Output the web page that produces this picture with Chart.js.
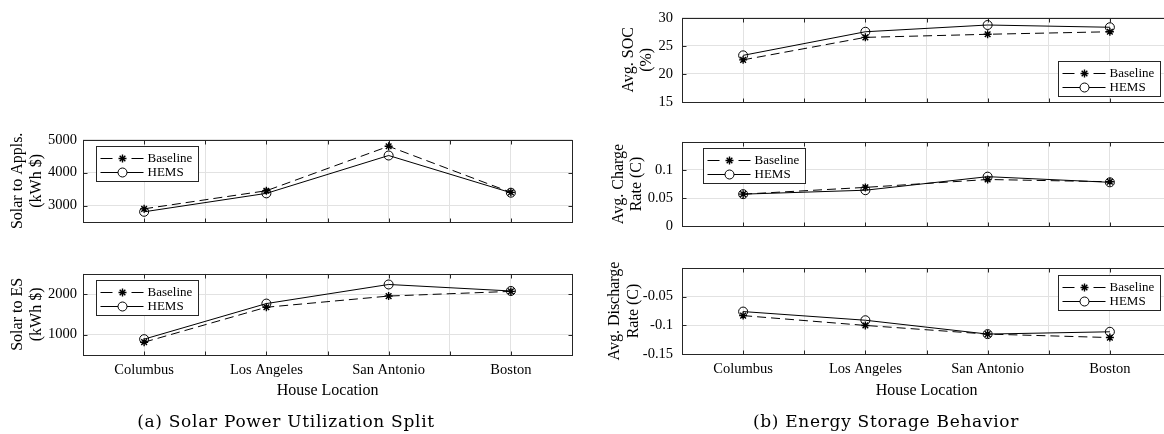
<!DOCTYPE html>
<html>
<head>
<meta charset="utf-8">
<script src="https://cdn.jsdelivr.net/npm/chart.js@4"></script>
<style>
    html, body {
        margin: 0;
        padding: 0;
        background: #ffffff;
    }

    #page {
        position: relative;
        width: 1164px;
        height: 434px;
        overflow: hidden;
        background: #ffffff;
    }

    canvas {
        position: absolute;
    }

    .caption {
        position: absolute;
        top: 410px;
        font-family: "DejaVu Serif", serif;
        font-size: 17px;
        letter-spacing: 0.7px;
        line-height: 22px;
        text-align: center;
        color: #000000;
        white-space: nowrap;
    }
</style>
</head>
<body>
<div id="page">
    <canvas id="applsChart" width="600" height="115" style="left:0px;top:125px"></canvas>
    <canvas id="esChart" width="600" height="175" style="left:0px;top:259px"></canvas>
    <canvas id="socChart" width="600" height="120" style="left:600px;top:0px"></canvas>
    <canvas id="chargeChart" width="600" height="120" style="left:600px;top:124px"></canvas>
    <canvas id="dischargeChart" width="600" height="184" style="left:600px;top:250px"></canvas>
    <div class="caption" style="left:0px;width:572px">(a) Solar Power Utilization Split</div>
    <div class="caption" style="left:608px;width:556px">(b) Energy Storage Behavior</div>
</div>

<script>

const locations = ["Columbus", "Los Angeles", "San Antonio", "Boston"];

const xGridPositions = [0.5, 1, 1.5, 2, 2.5, 3, 3.5, 4, 4.5];

const applsBaseline = [2900, 3450, 4800, 3400];
const applsHems = [2810, 3370, 4520, 3390];
const applsTicks = [3000, 4000, 5000];

const esBaseline = [815, 1675, 1950, 2065];
const esHems = [890, 1765, 2235, 2075];
const esTicks = [1000, 2000];

const socBaseline = [22.5, 26.5, 27.05, 27.5];
const socHems = [23.3, 27.5, 28.7, 28.3];
const socTicks = [15, 20, 25, 30];

const chargeBaseline = [0.057, 0.069, 0.083, 0.079];
const chargeHems = [0.057, 0.064, 0.088, 0.078];
const chargeTicks = [0, 0.05, 0.1];

const dischargeBaseline = [-0.083, -0.1, -0.115, -0.121];
const dischargeHems = [-0.076, -0.091, -0.115, -0.111];
const dischargeTicks = [-0.15, -0.1, -0.05];

const seriesNames = ["Baseline", "HEMS"];

const FONT = "'Liberation Serif', 'Times New Roman', serif";
const INK = "#262626";
const GRID = "#e2e2e2";

// marker drawn by hand so the legend matches the plot
function drawMarker(ctx, style, x, y, r, fill) {

    ctx.beginPath();

    if (style === "circle") {

        ctx.arc(x, y, r, 0, Math.PI * 2);
        ctx.fillStyle = fill;
        ctx.fill();

    } else {

        const d = r * Math.SQRT1_2;

        ctx.moveTo(x, y - r);
        ctx.lineTo(x, y + r);
        ctx.moveTo(x - r, y);
        ctx.lineTo(x + r, y);
        ctx.moveTo(x - d, y - d);
        ctx.lineTo(x + d, y + d);
        ctx.moveTo(x - d, y + d);
        ctx.lineTo(x + d, y - d);

    }

    ctx.stroke();

}

// matlab style box with inward ticks on all four sides
const boxPlugin = {

    id: "boxPlugin",

    beforeDatasetsDraw(chart) {

        const { ctx, chartArea: a, scales } = chart;

        const left = Math.round(a.left) + 0.5;
        const right = Math.round(a.right) + 0.5;
        const top = Math.round(a.top) + 0.5;
        const bottom = Math.round(a.bottom) + 0.5;

        const t = 4;

        ctx.save();

        ctx.strokeStyle = INK;
        ctx.lineWidth = 1;

        ctx.beginPath();

        scales.x.ticks.forEach(tick => {

            const px = Math.round(scales.x.getPixelForValue(tick.value)) + 0.5;

            ctx.moveTo(px, bottom);
            ctx.lineTo(px, bottom - t);
            ctx.moveTo(px, top);
            ctx.lineTo(px, top + t);

        });

        scales.y.ticks.forEach(tick => {

            const py = Math.round(scales.y.getPixelForValue(tick.value)) + 0.5;

            ctx.moveTo(left, py);
            ctx.lineTo(left + t, py);
            ctx.moveTo(right, py);
            ctx.lineTo(right - t, py);

        });

        ctx.stroke();

        ctx.strokeRect(left, top, right - left, bottom - top);

        ctx.restore();

    }

};

const insetLegend = {

    id: "insetLegend",

    afterDatasetsDraw(chart, args, opts) {

        const { ctx, chartArea: a } = chart;

        const w = 102;
        const h = 35;

        const bx = Math.round(opts.corner.includes("w")
            ? a.left + opts.dx
            : a.right - opts.dx - w) + 0.5;

        const by = Math.round(opts.corner.includes("n")
            ? a.top + opts.dy
            : a.bottom - opts.dy - h) + 0.5;

        ctx.save();

        ctx.fillStyle = "#ffffff";
        ctx.fillRect(bx, by, w, h);

        ctx.strokeStyle = INK;
        ctx.lineWidth = 1;
        ctx.strokeRect(bx, by, w, h);

        chart.data.datasets.forEach((ds, i) => {

            const cy = Math.round(by + 11 + i * 14) + 0.5;

            ctx.strokeStyle = "#000000";
            ctx.lineWidth = 1;
            ctx.setLineDash(ds.borderDash ? [12, 19] : []);

            ctx.beginPath();
            ctx.moveTo(bx + 4, cy);
            ctx.lineTo(bx + 47, cy);
            ctx.stroke();

            ctx.setLineDash([]);

            ctx.lineWidth = ds.pointBorderWidth;
            drawMarker(ctx, ds.pointStyle, bx + 26, cy, ds.pointRadius, "#ffffff");

            ctx.fillStyle = "#000000";
            ctx.font = "13px " + FONT;
            ctx.textAlign = "left";
            ctx.textBaseline = "middle";
            ctx.fillText(ds.label, bx + 51, cy);

        });

        ctx.restore();

    }

};

function toPoints(values) {

    return values.map((v, i) => ({ x: i + 1, y: v }));

}

function makeChart(id, cfg) {

    const ctx = document.getElementById(id);

    return new Chart(ctx, {

        type: "line",

        data: {

            datasets: [{

                label: seriesNames[0],

                data: toPoints(cfg.baseline),

                borderColor: "#000000",

                borderWidth: 1,

                borderDash: [9, 5],

                pointStyle: "star",

                pointRadius: 4,

                pointBorderColor: "#000000",

                pointBorderWidth: 1.4,

                tension: 0

            }, {

                label: seriesNames[1],

                data: toPoints(cfg.hems),

                borderColor: "#000000",

                borderWidth: 1,

                pointStyle: "circle",

                pointRadius: 4.5,

                pointBorderColor: "#000000",

                pointBackgroundColor: "rgba(0,0,0,0)",

                pointBorderWidth: 1,

                tension: 0

            }]

        },

        options: {

            responsive: false,

            animation: false,

            devicePixelRatio: 1,

            layout: {

                padding: {
                    top: cfg.padTop,
                    right: cfg.padRight,
                    left: 0,
                    bottom: 0
                }

            },

            plugins: {

                legend: { display: false },

                tooltip: { enabled: false },

                insetLegend: cfg.legend

            },

            scales: {

                x: {

                    type: "linear",

                    min: 0.5,

                    max: 4.5,

                    afterBuildTicks: scale => {
                        scale.ticks = xGridPositions.map(v => ({ value: v }));
                    },

                    afterFit: scale => {
                        scale.height = cfg.xHeight;
                    },

                    border: { display: false },

                    grid: {
                        color: GRID,
                        lineWidth: 1,
                        drawTicks: false
                    },

                    ticks: {
                        display: cfg.showX,
                        autoSkip: false,
                        maxRotation: 0,
                        padding: 6,
                        color: "#000000",
                        font: { family: FONT, size: 14.5 },
                        callback: v => Number.isInteger(v) ? locations[v - 1] : ""
                    },

                    title: {
                        display: cfg.showX,
                        text: "House Location",
                        color: "#000000",
                        font: { family: FONT, size: 16, lineHeight: 1.2 },
                        padding: { top: 0, bottom: 34 }
                    }

                },

                y: {

                    type: "linear",

                    min: cfg.min,

                    max: cfg.max,

                    afterBuildTicks: scale => {
                        scale.ticks = cfg.ticks.map(v => ({ value: v }));
                    },

                    afterFit: scale => {
                        scale.width = cfg.yWidth;
                    },

                    border: { display: false },

                    grid: {
                        color: GRID,
                        lineWidth: 1,
                        drawTicks: false
                    },

                    ticks: {
                        padding: cfg.tickPad,
                        color: "#000000",
                        font: { family: FONT, size: 14.5 },
                        callback: v => String(v)
                    },

                    title: {
                        display: true,
                        text: cfg.title,
                        color: "#000000",
                        font: { family: FONT, size: 16, lineHeight: cfg.titleLine },
                        padding: { top: cfg.titlePad, bottom: 0 }
                    }

                }

            }

        },

        plugins: [boxPlugin, insetLegend]

    });

}

makeChart("applsChart", {
    baseline: applsBaseline,
    hems: applsHems,
    ticks: applsTicks,
    min: 2500,
    max: 5000,
    title: ["Solar to Appls.", "(kWh $)"],
    padTop: 14,
    padRight: 28,
    xHeight: 18,
    yWidth: 83,
    tickPad: 6,
    titlePad: 9,
    titleLine: 1.15,
    showX: false,
    legend: { corner: "nw", dx: 13, dy: 6 }
});

makeChart("esChart", {
    baseline: esBaseline,
    hems: esHems,
    ticks: esTicks,
    min: 500,
    max: 2500,
    title: ["Solar to ES", "(kWh $)"],
    padTop: 14,
    padRight: 28,
    xHeight: 79,
    yWidth: 83,
    tickPad: 6,
    titlePad: 9,
    titleLine: 1.15,
    showX: true,
    legend: { corner: "nw", dx: 13, dy: 6 }
});

makeChart("socChart", {
    baseline: socBaseline,
    hems: socHems,
    ticks: socTicks,
    min: 15,
    max: 30,
    title: ["Avg. SOC", "(%)"],
    padTop: 12,
    padRight: 29,
    xHeight: 18,
    yWidth: 82,
    tickPad: 9,
    titlePad: 20,
    titleLine: 1.125,
    showX: false,
    legend: { corner: "se", dx: 11, dy: 6 }
});

makeChart("chargeChart", {
    baseline: chargeBaseline,
    hems: chargeHems,
    ticks: chargeTicks,
    min: 0,
    max: 0.15,
    title: ["Avg. Charge", "Rate (C)"],
    padTop: 13.5,
    padRight: 29,
    xHeight: 16,
    yWidth: 82,
    tickPad: 9,
    titlePad: 10,
    titleLine: 1.1,
    showX: false,
    legend: { corner: "nw", dx: 21, dy: 6.5 }
});

makeChart("dischargeChart", {
    baseline: dischargeBaseline,
    hems: dischargeHems,
    ticks: dischargeTicks,
    min: -0.15,
    max: 0,
    title: ["Avg. Discharge", "Rate (C)"],
    padTop: 13.3,
    padRight: 29,
    xHeight: 79.7,
    yWidth: 82,
    tickPad: 9,
    titlePad: 5,
    titleLine: 1.2,
    showX: true,
    legend: { corner: "ne", dx: 11, dy: 7 }
});

</script>
</body>
</html>
